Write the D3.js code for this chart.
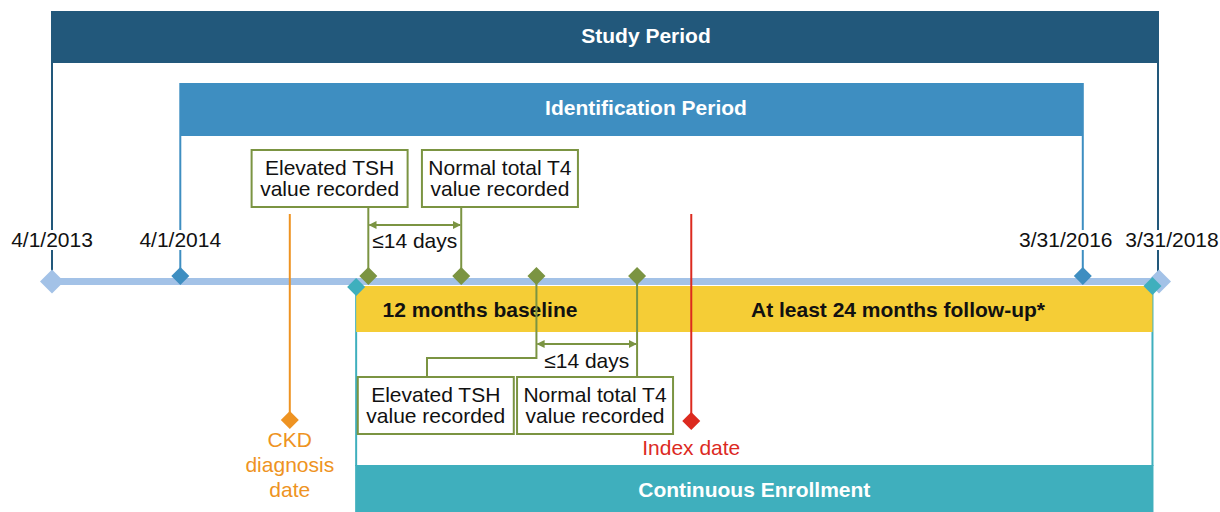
<!DOCTYPE html>
<html>
<head>
<meta charset="utf-8">
<script src="https://cdn.jsdelivr.net/npm/d3@7"></script>
<style>
  body { margin: 0; background: #fff; }
  text { font-family: "Liberation Sans", Arial, sans-serif; }
</style>
</head>
<body>
<script>
// schematic timeline positions (0 = start of study, 100 = end of study)
var periodNames = ["Study Period", "Identification Period"];
var periodStart = [0, 11.6];
var periodEnd = [100, 93.2];

var dateLabels = ["4/1/2013", "4/1/2014", "3/31/2016", "3/31/2018"];
var datePos = [0, 11.6, 93.2, 100];

var windowNames = ["12 months baseline", "At least 24 months follow-up*"];
var windowStart = 27.5;
var windowEnd = 99.5;
var enrollName = "Continuous Enrollment";

var eventLines = [["Elevated TSH", "value recorded"], ["Normal total T4", "value recorded"]];
var upperEvents = [28.6, 37.0];
var upperBoxes = [25.1, 40.5];
var lowerEvents = [43.8, 52.9];
var lowerBoxes = [34.7, 49.1];
var gapLabel = "\u226414 days";

var ckdPos = 21.5;
var ckdLines = ["CKD", "diagnosis", "date"];
var indexPos = 57.8;
var indexLabel = "Index date";

var W = 1220, H = 512;
var c = {dark: "#22587b", mid: "#3e8ec1", axis: "#a3c2e7", yellow: "#f5cd36",
         teal: "#3fafbd", green: "#7b9442", orange: "#ee9322", red: "#dc2a1f"};

var x = d3.scaleLinear().domain([0, 100]).range([52, 1158]);
var axisY = 281.5;
var fs = 21;

var svg = d3.select("body").append("svg").attr("width", W).attr("height", H);

var defs = svg.append("defs");
defs.append("marker").attr("id", "arr")
    .attr("viewBox", "0 0 10 10").attr("refX", 9).attr("refY", 5)
    .attr("markerWidth", 4).attr("markerHeight", 4).attr("orient", "auto-start-reverse")
    .append("path").attr("d", "M0,0L10,5L0,10Z").attr("fill", c.green);

function diamond(cx, cy, r, col) {
    svg.append("path")
        .attr("d", "M" + cx + "," + (cy - r) + "L" + (cx + r) + "," + cy + "L" + cx + "," + (cy + r) + "L" + (cx - r) + "," + cy + "Z")
        .attr("fill", col);
}

// period headers and side lines
var headerTop = [11, 83], headerH = [52, 53], headerCol = [c.dark, c.mid], lineEnd = [272, 270];
periodNames.forEach(function (name, i) {
    var x0 = x(periodStart[i]), x1 = x(periodEnd[i]);
    svg.append("rect").attr("x", x0 - 1).attr("y", headerTop[i])
        .attr("width", x1 - x0 + 2).attr("height", headerH[i]).attr("fill", headerCol[i]);
    [x0, x1].forEach(function (xx) {
        svg.append("line").attr("x1", xx).attr("x2", xx)
            .attr("y1", headerTop[i] + headerH[i]).attr("y2", lineEnd[i])
            .attr("stroke", headerCol[i]).attr("stroke-width", 2);
    });
    svg.append("text").attr("x", 646).attr("y", headerTop[i] + 32)
        .attr("text-anchor", "middle").attr("font-size", 21).attr("font-weight", "bold")
        .attr("fill", "#fff").text(name);
});

// date labels with white background
var labelShift = [0, 0, -17, 14];
dateLabels.forEach(function (d, i) {
    var t = svg.append("text").attr("x", x(datePos[i]) + labelShift[i]).attr("y", 247)
        .attr("text-anchor", "middle").attr("font-size", fs).attr("fill", "#111").text(d);
    var b = t.node().getBBox();
    svg.insert("rect", function () { return t.node(); })
        .attr("x", b.x).attr("y", b.y + 2).attr("width", b.width).attr("height", b.height - 3)
        .attr("fill", "#fff");
});

// continuous enrollment frame
var ex0 = x(windowStart), ex1 = x(windowEnd);
[ex0, ex1].forEach(function (xx) {
    svg.append("line").attr("x1", xx).attr("x2", xx).attr("y1", 286).attr("y2", 466)
        .attr("stroke", c.teal).attr("stroke-width", 2);
});
svg.append("rect").attr("x", ex0 - 1).attr("y", 465).attr("width", ex1 - ex0 + 2).attr("height", 47)
    .attr("fill", c.teal);
svg.append("text").attr("x", (ex0 + ex1) / 2).attr("y", 497).attr("text-anchor", "middle")
    .attr("font-size", 21).attr("font-weight", "bold").attr("fill", "#fff").text(enrollName);

// axis line
svg.append("line").attr("x1", x(0)).attr("x2", x(100) + 2).attr("y1", axisY).attr("y2", axisY)
    .attr("stroke", c.axis).attr("stroke-width", 7);

// yellow band
svg.append("rect").attr("x", ex0).attr("y", 286).attr("width", ex1 - ex0).attr("height", 46)
    .attr("fill", c.yellow);
svg.append("text").attr("x", 480).attr("y", 317).attr("text-anchor", "middle")
    .attr("font-size", 21).attr("font-weight", "bold").attr("fill", "#111").text(windowNames[0]);
svg.append("text").attr("x", 898).attr("y", 317).attr("text-anchor", "middle")
    .attr("font-size", 21).attr("font-weight", "bold").attr("fill", "#111").text(windowNames[1]);

// event boxes
var boxW = 156, boxH = 57;
function box(cx, top, lines) {
    svg.append("rect").attr("x", cx - boxW / 2).attr("y", top).attr("width", boxW).attr("height", boxH)
        .attr("fill", "#fff").attr("stroke", c.green).attr("stroke-width", 2);
    lines.forEach(function (l, j) {
        svg.append("text").attr("x", cx).attr("y", top + 25 + j * 21).attr("text-anchor", "middle")
            .attr("font-size", fs).attr("fill", "#111").text(l);
    });
}
function gline(pts) {
    svg.append("path").attr("d", d3.line()(pts)).attr("fill", "none")
        .attr("stroke", c.green).attr("stroke-width", 2);
}

// upper pair
upperEvents.forEach(function (e, i) {
    gline([[x(e), 208], [x(e), 276]]);
    box(x(upperBoxes[i]), 150, eventLines[i]);
});
svg.append("line").attr("x1", x(upperEvents[0]) + 1).attr("x2", x(upperEvents[1]) - 1)
    .attr("y1", 225).attr("y2", 225).attr("stroke", c.green).attr("stroke-width", 2)
    .attr("marker-start", "url(#arr)").attr("marker-end", "url(#arr)");
svg.append("text").attr("x", (x(upperEvents[0]) + x(upperEvents[1])) / 2).attr("y", 248)
    .attr("text-anchor", "middle").attr("font-size", fs).attr("fill", "#111").text(gapLabel);

// lower pair
gline([[x(lowerEvents[0]), 276], [x(lowerEvents[0]), 358], [427, 358], [427, 378]]);
gline([[x(lowerEvents[1]), 276], [x(lowerEvents[1]), 378]]);
lowerBoxes.forEach(function (b, i) { box(x(b), 377, eventLines[i]); });
svg.append("line").attr("x1", x(lowerEvents[0]) + 1).attr("x2", x(lowerEvents[1]) - 1)
    .attr("y1", 344).attr("y2", 344).attr("stroke", c.green).attr("stroke-width", 2)
    .attr("marker-start", "url(#arr)").attr("marker-end", "url(#arr)");
svg.append("text").attr("x", (x(lowerEvents[0]) + x(lowerEvents[1])) / 2).attr("y", 368)
    .attr("text-anchor", "middle").attr("font-size", fs).attr("fill", "#111").text(gapLabel);

// CKD diagnosis and index date
svg.append("line").attr("x1", x(ckdPos)).attr("x2", x(ckdPos)).attr("y1", 214).attr("y2", 420)
    .attr("stroke", c.orange).attr("stroke-width", 2);
diamond(x(ckdPos), 420, 9, c.orange);
ckdLines.forEach(function (l, j) {
    svg.append("text").attr("x", x(ckdPos)).attr("y", 447 + j * 25).attr("text-anchor", "middle")
        .attr("font-size", fs).attr("fill", c.orange).text(l);
});
svg.append("line").attr("x1", x(indexPos)).attr("x2", x(indexPos)).attr("y1", 214).attr("y2", 421)
    .attr("stroke", c.red).attr("stroke-width", 2);
diamond(x(indexPos), 421, 9, c.red);
svg.append("text").attr("x", x(indexPos)).attr("y", 455).attr("text-anchor", "middle")
    .attr("font-size", fs).attr("fill", c.red).text(indexLabel);

// axis diamonds
diamond(x(0), axisY, 12, c.axis);
diamond(x(100) + 1, axisY, 12, c.axis);
diamond(x(datePos[1]), 276, 9, c.mid);
diamond(x(datePos[2]), 276, 9, c.mid);
upperEvents.concat(lowerEvents).forEach(function (e) { diamond(x(e), 276, 9, c.green); });
diamond(ex0, 287, 9, c.teal);
diamond(ex1, 286, 9, c.teal);
</script>
</body>
</html>
